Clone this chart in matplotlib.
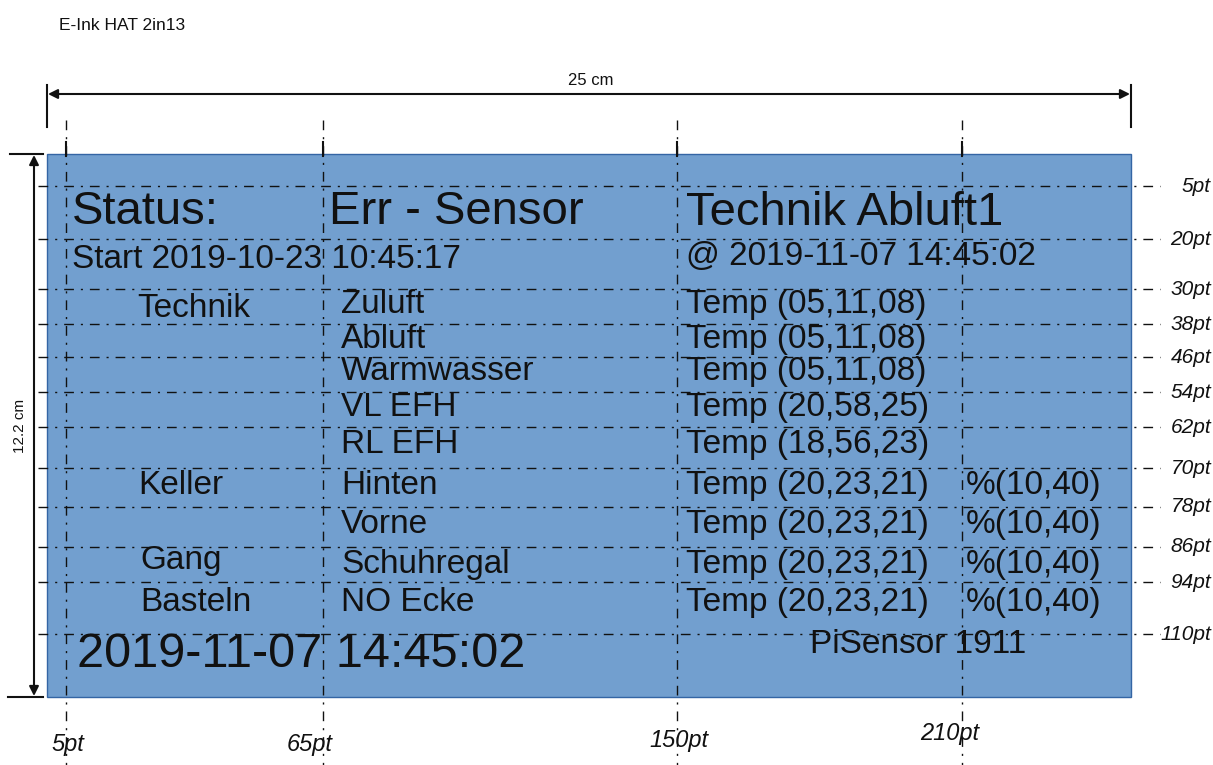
import matplotlib
matplotlib.use("Agg")
import matplotlib.pyplot as plt

# ---------------- data ----------------
title = "E-Ink HAT 2in13"
width_label = "25 cm"
height_label = "12.2 cm"

x_guide_labels = ["5pt", "65pt", "150pt", "210pt"]
y_guide_labels = ["5pt", "20pt", "30pt", "38pt", "46pt", "54pt", "62pt",
                  "70pt", "78pt", "86pt", "94pt", "110pt"]

header_left = "Status:"
header_mid = "Err - Sensor"
header_right = "Technik Abluft1"
start_line = "Start 2019-10-23 10:45:17"
update_line = "@ 2019-11-07 14:45:02"

groups = ["Technik", "Keller", "Gang", "Basteln"]
sensors = ["Zuluft", "Abluft", "Warmwasser", "VL EFH", "RL EFH",
           "Hinten", "Vorne", "Schuhregal", "NO Ecke"]
temps = ["Temp (05,11,08)", "Temp (05,11,08)", "Temp (05,11,08)",
         "Temp (20,58,25)", "Temp (18,56,23)", "Temp (20,23,21)",
         "Temp (20,23,21)", "Temp (20,23,21)", "Temp (20,23,21)"]
humid = ["", "", "", "", "", "%(10,40)", "%(10,40)", "%(10,40)", "%(10,40)"]

footer_time = "2019-11-07 14:45:02"
footer_id = "PiSensor 1911"

# ---------------- layout (pixel canvas) ----------------
W, H = 1213, 765
x_guide_pos = [66, 323, 677, 962]
x_label_pos = [68, 310, 679, 950]
x_label_base = [751, 751, 747, 740]
y_guide_pos = [186, 239, 289, 324, 357, 392, 427, 468, 507, 547, 582, 634]
row_base = [313, 348, 380, 416, 453, 494, 533, 573, 611]
group_pos = [(137, 317), (138, 494), (140, 569), (140, 611)]

rect_l, rect_r, rect_t, rect_b = 47, 1131, 154, 697
fill = "#729fcf"
edge = "#3465a4"
ink = "#111111"
FONT = "Liberation Sans"
guide_dash = (0, (7, 5, 1.5, 5))

plt.rcParams["font.family"] = [FONT, "DejaVu Sans"]

fig = plt.figure(figsize=(W / 100, H / 100), dpi=100)
ax = fig.add_axes([0, 0, 1, 1])
ax.set_xlim(0, W)
ax.set_ylim(H, 0)
ax.axis("off")

# display rectangle
ax.add_patch(plt.Rectangle((rect_l, rect_t), rect_r - rect_l, rect_b - rect_t,
                           facecolor=fill, edgecolor=edge, lw=1.0, zorder=1))

# title
ax.text(59, 30, title, fontsize=12.5, color=ink, va="baseline", ha="left")

# horizontal dimension
ax.plot([rect_l, rect_l], [85, 127], color=ink, lw=1.5, zorder=3)
ax.plot([rect_r, rect_r], [85, 127], color=ink, lw=1.5, zorder=3)
ax.annotate("", xy=(rect_l + 1, 94), xytext=(rect_r - 1, 94),
            arrowprops=dict(arrowstyle="<|-|>", lw=1.5, color=ink,
                            shrinkA=0, shrinkB=0, mutation_scale=14), zorder=3)
ax.text(591, 85, width_label, fontsize=12, color=ink, ha="center", va="baseline")

# vertical dimension
ax.plot([10, 43], [rect_t, rect_t], color=ink, lw=1.5, zorder=3)
ax.plot([8, 43], [rect_b, rect_b], color=ink, lw=1.5, zorder=3)
ax.annotate("", xy=(34, rect_t + 1), xytext=(34, rect_b - 1),
            arrowprops=dict(arrowstyle="<|-|>", lw=1.5, color=ink,
                            shrinkA=0, shrinkB=0, mutation_scale=14), zorder=3)
ax.text(20, 426, height_label, fontsize=11, color=ink, ha="center",
        va="center", rotation=90)

# vertical guides
for xg, lab, xl, yb in zip(x_guide_pos, x_guide_labels, x_label_pos, x_label_base):
    ax.plot([xg, xg], [120, H], color=ink, lw=1.0, linestyle=guide_dash, zorder=4)
    ax.plot([xg, xg], [142, 156], color=ink, lw=1.5, zorder=4)
    ax.text(xl, yb, lab, fontsize=17, style="italic", color=ink,
            ha="center", va="baseline", zorder=5)

# horizontal guides
for yg, lab in zip(y_guide_pos, y_guide_labels):
    ax.plot([38, 1160], [yg, yg], color=ink, lw=1.0, linestyle=guide_dash, zorder=4)
    ax.text(1211, yg, lab, fontsize=15, style="italic", color=ink,
            ha="right", va="center", zorder=5)

# display content
big = 34
mid = 24
ax.text(72, 224, header_left, fontsize=big, color=ink, va="baseline", zorder=6)
ax.text(329, 224, header_mid, fontsize=big, color=ink, va="baseline", zorder=6)
ax.text(686, 225, header_right, fontsize=big, color=ink, va="baseline", zorder=6)
ax.text(72, 268, start_line, fontsize=mid, color=ink, va="baseline", zorder=6)
ax.text(686, 265, update_line, fontsize=mid, color=ink, va="baseline", zorder=6)

for g, (gx, gy) in zip(groups, group_pos):
    ax.text(gx, gy, g, fontsize=mid, color=ink, va="baseline", zorder=6)

for s, t, h, yb in zip(sensors, temps, humid, row_base):
    ax.text(341, yb, s, fontsize=mid, color=ink, va="baseline", zorder=6)
    ax.text(686, yb, t, fontsize=mid, color=ink, va="baseline", zorder=6)
    if h:
        ax.text(966, yb, h, fontsize=mid, color=ink, va="baseline", zorder=6)

ax.text(77, 667, footer_time, fontsize=35, color=ink, va="baseline", zorder=6)
ax.text(810, 653, footer_id, fontsize=mid, color=ink, va="baseline", zorder=6)

fig.savefig("out.png", dpi=100)
